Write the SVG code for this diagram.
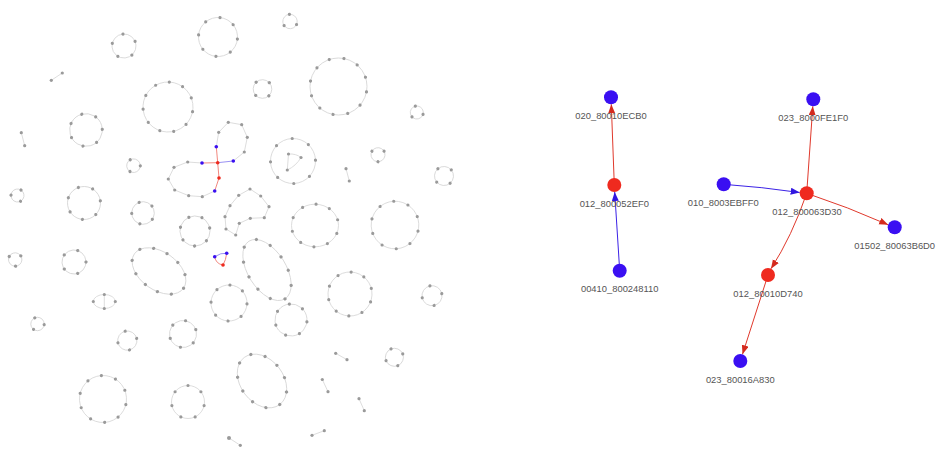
<svg xmlns="http://www.w3.org/2000/svg" width="936" height="449" viewBox="0 0 936 449">
  <defs>
    <style>
      .e{fill:none;stroke:#d4d4d4;stroke-width:0.8}
      .d{fill:none;stroke:#9a9a9a;stroke-width:3.2;stroke-linecap:round;stroke-dasharray:0 1}
      .p{fill:#9a9a9a}
      .ln{fill:none;stroke:#d4d4d4;stroke-width:0.8}
      .lr{fill:none;stroke:#ef7a70;stroke-width:0.9}
      .lb{fill:none;stroke:#8f86f2;stroke-width:0.9}
      .pr{fill:#ee2a1e}
      .pb{fill:#3a10f0}
      .er{fill:none;stroke:#e0392c;stroke-width:1}
      .eb{fill:none;stroke:#3b22e6;stroke-width:1}
      .nr{fill:#ef2a1f}
      .nb{fill:#3a0ff2}
      .lab{font-family:"Liberation Sans",Arial,sans-serif;font-size:9.4px;fill:#555;text-anchor:middle}
    </style>
    <marker id="ar" markerUnits="userSpaceOnUse" markerWidth="10" markerHeight="8" refX="9" refY="3.5" orient="auto">
      <path d="M0,0 L9,3.5 L0,7 z" fill="#d42a1e"/>
    </marker>
    <marker id="ab" markerUnits="userSpaceOnUse" markerWidth="10" markerHeight="8" refX="9" refY="3.5" orient="auto">
      <path d="M0,0 L9,3.5 L0,7 z" fill="#3116e0"/>
    </marker>
  </defs>
  <rect width="936" height="449" fill="#fff"/>

  <!-- small ring components: edge ring + evenly spaced vertices -->
  <g id="rings">
    <g id="c1" transform="translate(124,46) rotate(-95)"><circle r="12" class="e"/><circle r="12" class="d" pathLength="5"/></g>
    <g id="c2" transform="translate(168,107) rotate(-87)"><circle r="25" class="e"/><circle r="25" class="d" pathLength="11"/></g>
    <g id="c3" transform="translate(86,130) rotate(-105)"><circle r="16.3" class="e"/><circle r="16.3" class="d" pathLength="7"/></g>
    <g id="c4" transform="translate(218,37) rotate(-84)"><circle r="19.5" class="e"/><circle r="19.5" class="d" pathLength="8"/></g>
    <g id="c5" transform="translate(290,21.5) rotate(-95)"><circle r="7.2" class="e"/><circle r="7.2" class="d" pathLength="3"/></g>
    <g id="c6" transform="translate(262.5,89) rotate(-133)"><circle r="9.3" class="e"/><circle r="9.3" class="d" pathLength="4"/></g>
    <g id="c7" transform="translate(338.5,86.5) rotate(-79)"><circle r="28.5" class="e"/><circle r="28.5" class="d" pathLength="12"/></g>
    <g id="c8" transform="translate(416.8,112.5) rotate(-103)"><circle r="6.5" class="e"/><circle r="6.5" class="d" pathLength="3"/></g>
    <g id="c9" transform="translate(293,161) rotate(-92)"><circle r="22.5" class="e"/><circle r="22.5" class="d" pathLength="8"/></g>
    <g id="c11" transform="translate(315,225.5)"><ellipse rx="23.5" ry="21.3" class="e"/><ellipse rx="23.5" ry="21.3" class="d" pathLength="10" stroke-dashoffset="0.42"/></g>
    <g id="c12" transform="translate(395,225) rotate(-93)"><circle r="23.8" class="e"/><circle r="23.8" class="d" pathLength="10"/></g>
    <g id="c13" transform="translate(378,154.7) rotate(-150)"><circle r="7" class="e"/><circle r="7" class="d" pathLength="3"/></g>
    <g id="c15" transform="translate(444,176) rotate(-130)"><circle r="9.5" class="e"/><circle r="9.5" class="d" pathLength="4"/></g>
    <g id="c16" transform="translate(350,294) rotate(-87)"><circle r="22" class="e"/><circle r="22" class="d" pathLength="10"/></g>
    <g id="c17" transform="translate(432,295.7) rotate(-102)"><circle r="10" class="e"/><circle r="10" class="d" pathLength="4"/></g>
    <g id="c18" transform="translate(195,231) rotate(-114)"><circle r="15" class="e"/><circle r="15" class="d" pathLength="7"/></g>
    <g id="c21" transform="translate(262,381) rotate(53)"><ellipse rx="29.5" ry="21.5" class="e"/><ellipse rx="29.5" ry="21.5" class="d" pathLength="11"/></g>
    <g id="c22" transform="translate(267,270) rotate(58)"><ellipse rx="34" ry="19" class="e"/><ellipse rx="34" ry="19" class="d" pathLength="11"/></g>
    <g id="c23" transform="translate(159,271) rotate(35)"><ellipse rx="30" ry="19" class="e"/><ellipse rx="30" ry="19" class="d" pathLength="11"/></g>
    <g id="c25" transform="translate(133.5,165.7) rotate(-119)"><circle r="6.8" class="e"/><circle r="6.8" class="d" pathLength="3"/></g>
    <g id="c26" transform="translate(17.5,195.5) rotate(-57)"><circle r="6.5" class="e"/><circle r="6.5" class="d" pathLength="3"/></g>
    <g id="c27" transform="translate(84,203) rotate(-110)"><circle r="16.5" class="e"/><circle r="16.5" class="d" pathLength="7"/></g>
    <g id="c28" transform="translate(143,213) rotate(-110)"><circle r="11.3" class="e"/><circle r="11.3" class="d" pathLength="5"/></g>
    <g id="c29" transform="translate(15.2,259.5) rotate(-153)"><circle r="6.7" class="e"/><circle r="6.7" class="d" pathLength="3"/></g>
    <g id="c30" transform="translate(74,262) rotate(-72)"><circle r="12" class="e"/><circle r="12" class="d" pathLength="5"/></g>
    <g id="c31" transform="translate(104.3,301.5)"><ellipse rx="11" ry="7" class="e"/><line x1="0" y1="-7" x2="0" y2="7" class="ln"/><ellipse rx="11" ry="7" class="d" pathLength="4"/></g>
    <g id="c32" transform="translate(37.5,324) rotate(-114)"><circle r="6.7" class="e"/><circle r="6.7" class="d" pathLength="3"/></g>
    <g id="c33" transform="translate(127.3,340.6) rotate(-103)"><circle r="9.6" class="e"/><circle r="9.6" class="d" pathLength="4"/></g>
    <g id="c34" transform="translate(183,334) rotate(-79)"><circle r="13.5" class="e"/><circle r="13.5" class="d" pathLength="6"/></g>
    <g id="c35" transform="translate(103,399) rotate(-94)"><circle r="23.5" class="e"/><circle r="23.5" class="d" pathLength="10"/></g>
    <g id="c36" transform="translate(188,402) rotate(-90)"><circle r="16.5" class="e"/><circle r="16.5" class="d" pathLength="7"/></g>
    <g id="c37" transform="translate(229,303) rotate(-87)"><circle r="18" class="e"/><circle r="18" class="d" pathLength="8"/></g>
    <g id="c38" transform="translate(291,320) rotate(-96)"><circle r="16" class="e"/><circle r="16" class="d" pathLength="7"/></g>
    <g id="c40" transform="translate(394.4,357.3) rotate(-112)"><circle r="9" class="e"/><circle r="9" class="d" pathLength="4"/></g>
  </g>

  <!-- two-vertex components -->
  <g id="pairs">
    <path class="ln" d="M51.3,80.3 L62.3,73 M21.3,132.7 L24.7,145.7 M346,168.7 L349.3,181 M335.7,353.3 L347,359.7 M322.3,379.5 L328,391.7 M359,398.7 L364.3,410.7 M312,435.3 L324.3,430.7 M229,438 L240.3,445.3"/>
    <g class="p">
      <circle cx="51.3" cy="80.3" r="1.6"/><circle cx="62.3" cy="73" r="1.6"/>
      <circle cx="21.3" cy="132.7" r="1.6"/><circle cx="24.7" cy="145.7" r="1.6"/>
      <circle cx="346" cy="168.7" r="1.6"/><circle cx="349.3" cy="181" r="1.6"/>
      <circle cx="335.7" cy="353.3" r="1.6"/><circle cx="347" cy="359.7" r="1.6"/>
      <circle cx="322.3" cy="379.5" r="1.6"/><circle cx="328" cy="391.7" r="1.6"/>
      <circle cx="359" cy="398.7" r="1.6"/><circle cx="364.3" cy="410.7" r="1.6"/>
      <circle cx="312" cy="435.3" r="1.6"/><circle cx="324.3" cy="430.7" r="1.6"/>
      <circle cx="229" cy="438" r="2"/><circle cx="240.3" cy="445.3" r="1.6"/>
    </g>
  </g>

  <!-- triangle inside ring c9 -->
  <g id="c10">
    <path class="ln" d="M288.5,154 L287.3,170 M288.5,154 Q296,153.5 301,157.5 Q296,166 287.3,170"/>
    <g class="p"><circle cx="288.5" cy="154" r="1.6"/><circle cx="301" cy="157.5" r="1.6"/><circle cx="287.3" cy="170" r="1.6"/></g>
  </g>

  <!-- kidney-shaped loop -->
  <g id="c19">
    <path class="ln" d="M250,189 L260.7,196 L269,206.7 L264.3,217.7 L250.3,218.3 L239.3,223.3 L235.7,235 L226,229 L225,216.7 L230,205.7 L238.7,195.3 Z" stroke-linejoin="round"/>
    <g class="p">
      <circle cx="250" cy="189" r="1.6"/><circle cx="260.7" cy="196" r="1.6"/><circle cx="269" cy="206.7" r="1.6"/>
      <circle cx="264.3" cy="217.7" r="1.6"/><circle cx="250.3" cy="218.3" r="1.6"/><circle cx="239.3" cy="223.3" r="1.6"/>
      <circle cx="235.7" cy="235" r="1.6"/><circle cx="226" cy="229" r="1.6"/><circle cx="225" cy="216.7" r="1.6"/>
      <circle cx="230" cy="205.7" r="1.6"/><circle cx="238.7" cy="195.3" r="1.6"/>
    </g>
  </g>

  <!-- highlighted figure-eight component -->
  <g id="c20">
    <path class="ln" d="M216.3,146.7 L218.7,132.3 L228.3,122.3 L241.7,124.7 L247.3,137.3 L244.3,152 L233.3,161"/>
    <path class="ln" d="M202,163 L187.7,162 L174,167.3 L168.3,179 L174.7,190 L188.7,195.7 L202.3,196.7 L214.7,191"/>
    <path class="lr" d="M217.7,162.7 L216.3,146.7 M217.7,162.7 L202,163 M217.7,162.7 L219,178 L214.7,191"/>
    <path class="lb" d="M217.7,162.7 L233.3,161"/>
    <g class="p">
      <circle cx="218.7" cy="132.3" r="1.6"/><circle cx="228.3" cy="122.3" r="1.6"/><circle cx="241.7" cy="124.7" r="1.6"/>
      <circle cx="247.3" cy="137.3" r="1.6"/><circle cx="244.3" cy="152" r="1.6"/>
      <circle cx="187.7" cy="162" r="1.6"/><circle cx="174" cy="167.3" r="1.6"/><circle cx="168.3" cy="179" r="1.6"/>
      <circle cx="174.7" cy="190" r="1.6"/><circle cx="188.7" cy="195.7" r="1.6"/><circle cx="202.3" cy="196.7" r="1.6"/>
    </g>
    <g class="pb"><circle cx="216.3" cy="146.7" r="1.8"/><circle cx="202" cy="163" r="1.8"/><circle cx="233.3" cy="161" r="1.8"/><circle cx="214.7" cy="191" r="1.8"/></g>
    <g class="pr"><circle cx="217.7" cy="162.7" r="1.8"/><circle cx="219" cy="178" r="1.8"/></g>
  </g>

  <!-- highlighted triangle -->
  <g id="c24">
    <path class="lb" d="M214.7,256.7 Q221,252.5 226.7,253.3"/>
    <path class="lr" d="M214.7,256.7 Q216,264 223,265 M226.7,253.3 Q226,260 223,265"/>
    <g class="pb"><circle cx="214.7" cy="256.7" r="1.8"/><circle cx="226.7" cy="253.3" r="1.8"/></g>
    <g class="pr"><circle cx="223" cy="265" r="1.8"/></g>
  </g>

  <!-- directed subgraphs -->
  <g id="connectors">
    <path class="er" d="M614.3,185 L611.3,104.3" marker-end="url(#ar)"/>
    <path class="eb" d="M619.7,270.7 L614.7,192" marker-end="url(#ab)"/>
    <path class="er" d="M806.7,193.3 L812.8,106.3" marker-end="url(#ar)"/>
    <path class="eb" d="M723.7,184.3 Q762,187 799.7,192.5" marker-end="url(#ab)"/>
    <path class="er" d="M806.7,193.3 Q848,207 888.2,224.8" marker-end="url(#ar)"/>
    <path class="er" d="M806.7,193.3 Q791.9,236.3 771,268.7" marker-end="url(#ar)"/>
    <path class="er" d="M768,275 L742.5,354.3" marker-end="url(#ar)"/>
  </g>

  <g id="n_020_80010ECB0"><circle cx="611" cy="97.3" r="7" class="nb"/><text x="611" y="118.8" class="lab">020_80010ECB0</text></g>
  <g id="n_012_800052EF0"><circle cx="614.3" cy="185" r="7" class="nr"/><text x="614.3" y="206.5" class="lab">012_800052EF0</text></g>
  <g id="n_00410_800248110"><circle cx="619.7" cy="270.7" r="7" class="nb"/><text x="619.7" y="292.2" class="lab">00410_800248110</text></g>

  <g id="n_023_8000FE1F0"><circle cx="813.3" cy="99.3" r="7" class="nb"/><text x="813.3" y="120.8" class="lab">023_8000FE1F0</text></g>
  <g id="n_010_8003EBFF0"><circle cx="723.7" cy="184.3" r="7" class="nb"/><text x="723.3" y="205.8" class="lab">010_8003EBFF0</text></g>
  <g id="n_012_800063D30"><circle cx="806.7" cy="193.3" r="7" class="nr"/><text x="807" y="214.8" class="lab">012_800063D30</text></g>
  <g id="n_01502_80063B6D0"><circle cx="894.7" cy="227.3" r="7" class="nb"/><text x="894.7" y="248.8" class="lab">01502_80063B6D0</text></g>
  <g id="n_012_80010D740"><circle cx="768" cy="275" r="7" class="nr"/><text x="768" y="296.5" class="lab">012_80010D740</text></g>
  <g id="n_023_80016A830"><circle cx="740.3" cy="361" r="7" class="nb"/><text x="740.3" y="382.5" class="lab">023_80016A830</text></g>
</svg>
